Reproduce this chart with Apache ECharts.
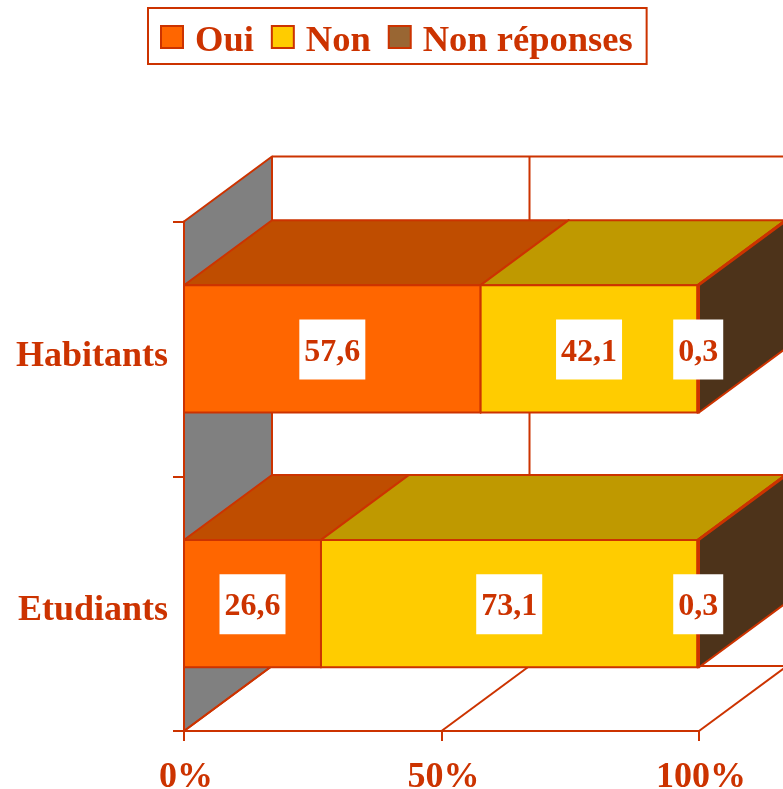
<!DOCTYPE html>
<html>
<head>
<meta charset="utf-8">
<title>Oui / Non</title>
<style>
  html, body { margin: 0; padding: 0; background: #fff; overflow: hidden; }
  #chart { width: 783px; height: 789px; }
</style>
<script src="https://cdn.jsdelivr.net/npm/echarts@6/dist/echarts.min.js"></script>
</head>
<body>
<div id="chart"></div>
<script>
// data, categories run bottom to top on the axis
var categories = ['Etudiants', 'Habitants']
var seriesNames = ['Oui', 'Non', 'Non réponses']
var ouiValues = [26.6, 57.6]
var nonValues = [73.1, 42.1]
var nonReponseValues = [0.3, 0.3]
var gridValues = [0, 50, 100]

var INK = '#CC3300'
var SERIF = '"Liberation Serif", "Times New Roman", serif'
// depth of the 3D look, in pixels
var DEPTH_X = 88
var DEPTH_Y = -65
var BAR_RATIO = 0.5

var faces = [
  { front: '#FF6600', top: '#BF4D00', side: '#7F3300' },
  { front: '#FFCC00', top: '#BF9900', side: '#7F6600' },
  { front: '#996633', top: '#734D26', side: '#4D331A' }
]

function poly(points, fill, width) {
  return {
    type: 'polygon',
    shape: { points: points },
    style: { fill: fill, stroke: INK, lineWidth: width || 2, lineJoin: 'round' }
  }
}

function seg(x1, y1, x2, y2) {
  return {
    type: 'line',
    shape: { x1: x1, y1: y1, x2: x2, y2: y2 },
    style: { stroke: INK, lineWidth: 2 }
  }
}

// back wall, left wall and floor lines
function renderWalls(params, api) {
  var box = params.coordSys
  var top = box.y
  var bottom = box.y + box.height
  var left = box.x
  var children = [
    poly([[left, top], [left + DEPTH_X, top + DEPTH_Y], [left + DEPTH_X, bottom + DEPTH_Y], [left, bottom]], '#808080'),
    seg(left + DEPTH_X, top + DEPTH_Y, left + box.width + DEPTH_X, top + DEPTH_Y),
    seg(left + DEPTH_X, bottom + DEPTH_Y, left + box.width + DEPTH_X, bottom + DEPTH_Y)
  ]
  gridValues.forEach(function (v) {
    var x = api.coord([v, 0])[0]
    children.push(seg(x, bottom, x + DEPTH_X, bottom + DEPTH_Y))
    if (v > 0) {
      children.push(seg(x + DEPTH_X, top + DEPTH_Y, x + DEPTH_X, bottom + DEPTH_Y))
    }
  })
  return { type: 'group', children: children }
}

// one stacked block: api values are start, end, category
function renderBlock(face) {
  return function (params, api) {
    var start = api.value(0)
    var end = api.value(1)
    var cat = api.value(2)
    var p0 = api.coord([start, cat])
    var p1 = api.coord([end, cat])
    var h = api.size([0, 1])[1] * BAR_RATIO
    var y0 = p0[1] - h / 2
    var y1 = p0[1] + h / 2
    var x0 = p0[0]
    var x1 = p1[0]
    return {
      type: 'group',
      children: [
        poly([[x0, y0], [x0 + DEPTH_X, y0 + DEPTH_Y], [x1 + DEPTH_X, y0 + DEPTH_Y], [x1, y0]], face.top),
        poly([[x1, y0], [x1 + DEPTH_X, y0 + DEPTH_Y], [x1 + DEPTH_X, y1 + DEPTH_Y], [x1, y1]], face.side),
        poly([[x0, y0], [x1, y0], [x1, y1], [x0, y1]], face.front),
        {
          type: 'text',
          z2: 100,
          style: {
            text: '{a|' + String(Math.round((end - start) * 10) / 10).replace('.', ',') + '}',
            x: (x0 + x1) / 2,
            y: p0[1] + 0.5,
            align: 'center',
            verticalAlign: 'middle',
            backgroundColor: '#fff',
            padding: [11, 5],
            rich: {
              a: {
                fill: INK,
                font: 'bold 32px ' + SERIF,
                padding: [6, 0, 0, 0]
              }
            }
          }
        }
      ]
    }
  }
}

function stackData(values, base) {
  // drawn with the upper category first
  return categories.map(function (c, i) {
    return [base[i], base[i] + values[i], i]
  }).reverse()
}

var base0 = [0, 0]
var base1 = ouiValues.slice()
var base2 = ouiValues.map(function (v, i) { return v + nonValues[i] })

var chart = echarts.init(document.getElementById('chart'))
chart.setOption({
  animation: false,
  backgroundColor: '#fff',
  legend: {
    left: 148,
    top: 8,
    data: seriesNames,
    icon: 'rect',
    itemWidth: 22,
    itemHeight: 22,
    itemGap: 17,
    padding: [15, 14, 4, 12],
    borderColor: INK,
    borderWidth: 2,
    selectedMode: false,
    itemStyle: { borderColor: INK, borderWidth: 2 },
    formatter: function (name) {
      return '{a|' + name + '}'
    },
    textStyle: {
      color: INK,
      rich: {
        a: {
          color: INK,
          fontFamily: SERIF,
          fontWeight: 'bold',
          fontSize: 36.5,
          padding: [9, 0, 0, 7]
        }
      }
    }
  },
  grid: { left: 184, top: 221.5, width: 515, height: 509.5, outerBoundsMode: 'none' },
  xAxis: {
    type: 'value',
    min: 0,
    max: 100,
    interval: 50,
    splitLine: { show: false },
    axisLine: { show: true, lineStyle: { color: INK, width: 2 } },
    axisTick: { show: true, length: 10, lineStyle: { color: INK, width: 2 } },
    axisLabel: {
      formatter: '{value}%',
      color: INK,
      fontFamily: SERIF,
      fontWeight: 'bold',
      fontSize: 36,
      margin: 29,
      padding: [0, 0, 0, 4]
    }
  },
  yAxis: {
    type: 'category',
    data: categories,
    axisLine: { show: true, lineStyle: { color: INK, width: 2 } },
    axisTick: { show: true, length: 11, lineStyle: { color: INK, width: 2 } },
    axisLabel: {
      margin: 16,
      formatter: function (name) {
        return '{a|' + name + '}'
      },
      rich: {
        a: {
          color: INK,
          fontFamily: SERIF,
          fontWeight: 'bold',
          fontSize: 36,
          padding: [15, 0, 0, 0]
        }
      }
    }
  },
  series: [
    { type: 'custom', silent: true, renderItem: renderWalls, data: [[0, 0]] },
    {
      name: seriesNames[0],
      type: 'custom',
      silent: true,
      renderItem: renderBlock(faces[0]),
      itemStyle: { color: faces[0].front },
      encode: { x: [0, 1], y: 2 },
      data: stackData(ouiValues, base0)
    },
    {
      name: seriesNames[1],
      type: 'custom',
      silent: true,
      renderItem: renderBlock(faces[1]),
      itemStyle: { color: faces[1].front },
      encode: { x: [0, 1], y: 2 },
      data: stackData(nonValues, base1)
    },
    {
      name: seriesNames[2],
      type: 'custom',
      silent: true,
      renderItem: renderBlock(faces[2]),
      itemStyle: { color: faces[2].front },
      encode: { x: [0, 1], y: 2 },
      data: stackData(nonReponseValues, base2)
    }
  ]
})
</script>
</body>
</html>
